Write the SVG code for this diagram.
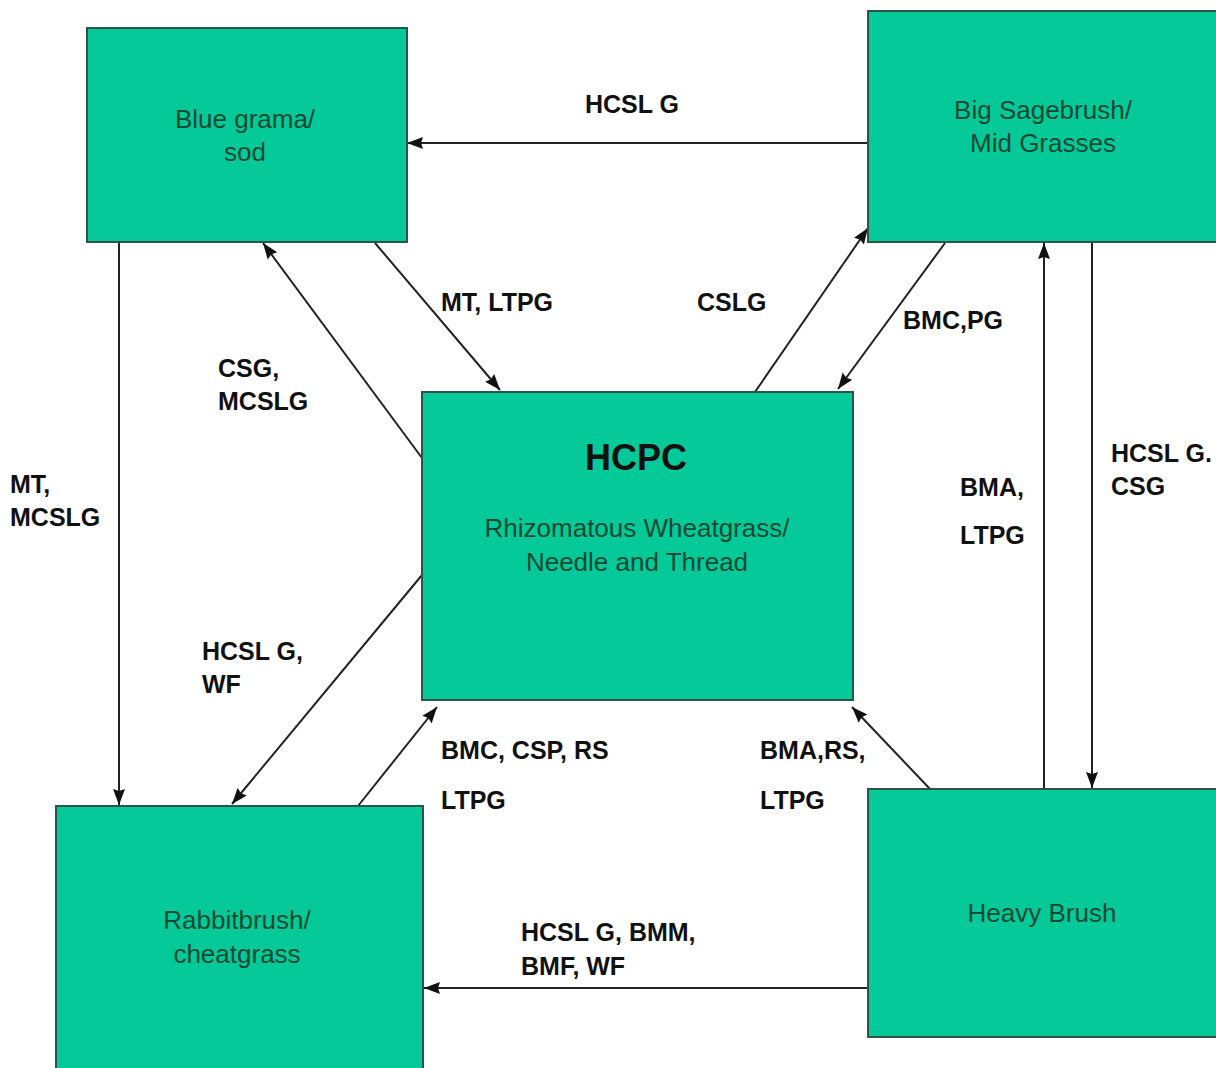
<svg xmlns="http://www.w3.org/2000/svg" width="1216" height="1068" viewBox="0 0 1216 1068">
<defs>
<marker id="ah" markerUnits="userSpaceOnUse" markerWidth="18" markerHeight="14" refX="16" refY="7" orient="auto">
<path d="M0,1 L16,7 L0,13 L2,7 Z" fill="#111"/>
</marker>
<style>
.box{fill:#05C998;stroke:#2b5547;stroke-width:2}
.bt{font-family:"Liberation Sans",Arial,sans-serif;font-size:26px;fill:#0a4a32;text-anchor:middle}
.title{font-family:"Liberation Sans",Arial,sans-serif;font-size:36px;font-weight:bold;fill:#111;text-anchor:middle}
.lbl{font-family:"Liberation Sans",Arial,sans-serif;font-size:25px;font-weight:bold;fill:#111}
.c line{stroke:#222;stroke-width:2;marker-end:url(#ah)}
</style>
</defs>
<rect width="1216" height="1068" fill="#fff"/>
<g id="connectors" class="c">
<line x1="868" y1="143" x2="407" y2="143"/>
<line x1="375" y1="243" x2="500" y2="390"/>
<line x1="422" y1="458" x2="263" y2="243"/>
<line x1="119" y1="242" x2="119" y2="805"/>
<line x1="755" y1="392" x2="868" y2="228"/>
<line x1="945" y1="243" x2="838" y2="389"/>
<line x1="422" y1="575" x2="232" y2="804"/>
<line x1="358" y1="806" x2="437" y2="707"/>
<line x1="930" y1="789" x2="852" y2="707"/>
<line x1="1044" y1="789" x2="1044" y2="243"/>
<line x1="1092" y1="242" x2="1092" y2="788"/>
<line x1="868" y1="988" x2="424" y2="988"/>
</g>
<g id="labels">
<text class="lbl" x="585" y="113">HCSL G</text>
<text class="lbl" x="441" y="311">MT, LTPG</text>
<text class="lbl" x="697" y="311">CSLG</text>
<text class="lbl" x="903" y="329">BMC,PG</text>
<text class="lbl" x="218" y="377">CSG,</text>
<text class="lbl" x="218" y="410">MCSLG</text>
<text class="lbl" x="10" y="493">MT,</text>
<text class="lbl" x="10" y="526">MCSLG</text>
<text class="lbl" x="1111" y="462">HCSL G.</text>
<text class="lbl" x="1111" y="495">CSG</text>
<text class="lbl" x="960" y="496">BMA,</text>
<text class="lbl" x="960" y="544">LTPG</text>
<text class="lbl" x="202" y="660">HCSL G,</text>
<text class="lbl" x="202" y="693">WF</text>
<text class="lbl" x="441" y="759">BMC, CSP, RS</text>
<text class="lbl" x="441" y="809">LTPG</text>
<text class="lbl" x="760" y="759">BMA,RS,</text>
<text class="lbl" x="760" y="809">LTPG</text>
<text class="lbl" x="521" y="941">HCSL G, BMM,</text>
<text class="lbl" x="521" y="975">BMF, WF</text>
</g>
<g id="blue-grama">
<rect class="box" x="87" y="28" width="320" height="214"/>
<text class="bt" x="245" y="128">Blue grama/</text>
<text class="bt" x="245" y="161">sod</text>
</g>
<g id="big-sagebrush">
<rect class="box" x="868" y="11" width="360" height="231"/>
<text class="bt" x="1043" y="119">Big Sagebrush/</text>
<text class="bt" x="1043" y="152">Mid Grasses</text>
</g>
<g id="hcpc">
<rect class="box" x="422" y="392" width="431" height="308"/>
<text class="title" x="636" y="470">HCPC</text>
<text class="bt" x="637" y="537">Rhizomatous Wheatgrass/</text>
<text class="bt" x="637" y="571">Needle and Thread</text>
</g>
<g id="rabbitbrush">
<rect class="box" x="56" y="806" width="367" height="280"/>
<text class="bt" x="237" y="929">Rabbitbrush/</text>
<text class="bt" x="237" y="963">cheatgrass</text>
</g>
<g id="heavy-brush">
<rect class="box" x="868" y="789" width="360" height="248"/>
<text class="bt" x="1042" y="922">Heavy Brush</text>
</g>
</svg>
